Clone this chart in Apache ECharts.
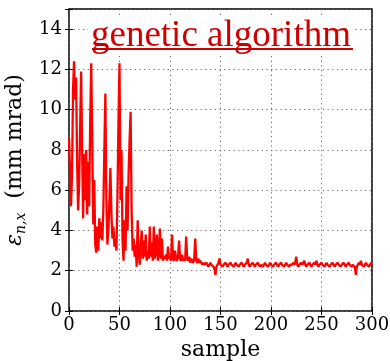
<!DOCTYPE html>
<html>
<head>
<meta charset="utf-8">
<script src="https://cdn.jsdelivr.net/npm/echarts@6/dist/echarts.min.js"></script>
<style>html,body{margin:0;padding:0;background:#fff;}#c{width:390px;height:361px;}</style>
</head>
<body>
<div id="c"></div>
<script>
// emittance per sample (samples 0..300)
const earlyValues = [
  8.6,7.0,5.2,6.8,11.0,12.4,10.5,11.6,7.5,5.0,
  6.2,9.0,11.9,8.0,4.6,7.8,5.5,8.0,4.8,7.4,
  5.2,9.5,12.3,8.5,4.3,6.5,3.3,2.9,4.2,3.0,
  4.6,3.6,4.4,3.5,5.0,8.0,10.8,5.5,3.3,4.0,
  5.5,7.1,4.8,3.6,4.2,3.2,3.6,3.0,5.8,9.5,
  12.3,5.5,8.0,3.5,2.5,4.5,3.0,6.2,4.0,6.8,
  8.5,9.9,5.0,3.0,3.6,2.7,3.3,2.2,4.5,3.0,
  2.3,3.2,4.0,2.6,3.5,2.7,3.8,2.5,3.0,2.6,
  4.2,2.7,3.4,2.5,4.2,2.6,3.0,3.8,2.5,2.8,
  4.1,2.6,3.6,2.5,2.7,2.6,2.8,2.5,3.2,2.6,
  2.7,2.5,3.8,2.6,2.5,3.0,2.6,2.5,2.7,3.5,
  2.6,2.5,2.8,2.5,2.6,2.5,3.7,2.6,2.5,2.7,
  2.4,2.6,2.5,2.4,2.6,3.6,2.5,2.4,2.6,2.4,
  2.5
];
const lateValues = [
  2.4,2.3,2.4,2.3,2.3,2.4,2.3,2.2,2.3,2.4,
  2.3,2.3,2.2,2.1,1.8,2.2,2.3,2.4,2.6,2.3,
  2.3,2.2,2.3,2.3,2.4,2.3,2.2,2.3,2.3,2.4,
  2.3,2.3,2.2,2.3,2.4,2.3,2.3,2.2,2.3,2.3,
  2.4,2.3,2.2,2.3,2.3,2.4,2.6,2.3,2.2,2.3,
  2.3,2.4,2.3,2.2,2.3,2.3,2.4,2.3,2.2,2.3,
  2.3,2.2,2.3,2.4,2.3,2.3,2.2,2.3,2.4,2.3,
  2.3,2.2,2.3,2.3,2.4,2.3,2.2,2.3,2.3,2.4,
  2.3,2.3,2.2,2.3,2.4,2.3,2.3,2.2,2.3,2.3,
  2.3,2.4,2.3,2.4,2.7,2.3,2.2,2.3,2.3,2.4,
  2.3,2.3,2.5,2.3,2.2,2.3,2.3,2.4,2.3,2.2,
  2.3,2.3,2.4,2.3,2.5,2.3,2.2,2.3,2.3,2.4,
  2.3,2.3,2.2,2.3,2.4,2.3,2.3,2.2,2.3,2.3,
  2.4,2.3,2.2,2.3,2.3,2.4,2.3,2.3,2.2,2.3,
  2.3,2.4,2.3,2.2,2.3,2.3,2.4,2.3,2.3,2.2,
  2.3,2.3,2.2,1.8,2.2,2.3,2.4,2.3,2.5,2.3,
  2.3,2.2,2.3,2.4,2.3,2.3,2.2,2.3,2.4,2.3
];
const emittance = earlyValues.concat(lateValues);
const xTicks = [0,50,100,150,200,250,300];
const yTicks = [0,2,4,6,8,10,12,14];
const titleText = 'genetic algorithm';
const xName = 'sample';

const seriesData = emittance.map((v, i) => [i, v]);

const chart = echarts.init(document.getElementById('c'), null, {renderer: 'canvas'});
const serif = 'DejaVu Serif';
const splitStyle = {show: true, lineStyle: {color: '#666', type: [1.2, 3.5], width: 1}};
const tickIn = {show: true, inside: true, length: 4, lineStyle: {color: '#000', width: 1}};
chart.setOption({
  animation: false,
  backgroundColor: '#fff',
  grid: {left: 69, right: 18, top: 9, bottom: 50, outerBoundsMode: 'none', containLabel: false,
    show: true, borderColor: '#000', borderWidth: 1.5, backgroundColor: 'transparent'},
  xAxis: [{
    type: 'value', min: xTicks[0], max: xTicks[xTicks.length-1], interval: 50,
    axisLine: {show: false}, axisTick: tickIn, splitLine: splitStyle,
    axisLabel: {color: '#000', fontFamily: serif, fontSize: 18, margin: 5},
    name: xName, nameLocation: 'middle', nameGap: 25,
    nameTextStyle: {color: '#000', fontFamily: serif, fontSize: 22}
  }, {
    type: 'value', position: 'top', min: 0, max: 300, interval: 50,
    axisLine: {show: false}, axisTick: tickIn, splitLine: {show: false}, axisLabel: {show: false}
  }],
  yAxis: [{
    type: 'value', min: 0, max: 15, interval: 2,
    axisLine: {show: false}, axisTick: tickIn, splitLine: splitStyle,
    axisLabel: {color: '#000', fontFamily: serif, fontSize: 18, margin: 7,
      formatter: v => yTicks.indexOf(v) >= 0 ? String(v) : ''},
    name: '{e|ε}{s|n,x}{t|  (mm mrad)}', nameLocation: 'middle', nameGap: 33, nameRotate: 90,
    nameTextStyle: {color: '#000', fontFamily: serif, fontSize: 22,
      rich: {
        e: {fontFamily: serif, fontStyle: 'italic', fontSize: 22, color: '#000', lineHeight: 26},
        s: {fontFamily: serif, fontStyle: 'italic', fontSize: 14, color: '#000', verticalAlign: 'bottom', lineHeight: 22},
        t: {fontFamily: serif, fontSize: 22, color: '#000', lineHeight: 26}
      }}
  }, {
    type: 'value', position: 'right', min: 0, max: 15, interval: 2,
    axisLine: {show: false}, axisTick: tickIn, splitLine: {show: false}, axisLabel: {show: false}
  }],
  series: [{
    type: 'line', data: seriesData, xAxisIndex: 0, yAxisIndex: 0,
    showSymbol: false, symbol: 'none',
    lineStyle: {color: '#ff0000', width: 2.3}, z: 3
  }],
  graphic: [{
    type: 'text', left: 88, top: 18, z: 10,
    style: {text: titleText, font: '37px "Liberation Serif"', fill: '#cc0000',
      backgroundColor: '#fff', padding: [0, 3, 0, 3]}
  }, {
    type: 'rect', shape: {x: 92, y: 48, width: 261, height: 2}, z: 11,
    style: {fill: '#cc0000'}
  }]
});
</script>
</body>
</html>
